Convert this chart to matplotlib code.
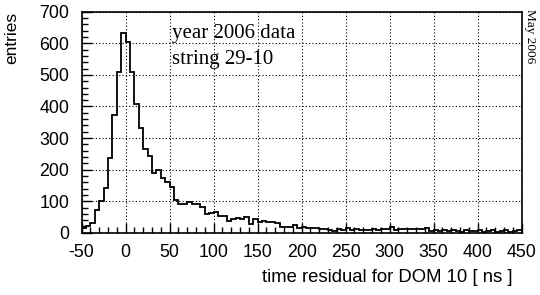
import numpy as np
import matplotlib
matplotlib.use('Agg')
import matplotlib.pyplot as plt
from matplotlib.ticker import MultipleLocator

plt.rcParams['axes.unicode_minus'] = False

# bin edges: 5 ns bins from -50 to 450
bin_lo = -50
bin_w = 5
counts = [14, 20, 32, 73, 100, 142, 237, 374, 508, 632,
          603, 510, 408, 333, 265, 243, 188, 200, 173, 160,
          146, 103, 90, 90, 98, 90, 90, 82, 58, 63,
          67, 53, 53, 37, 45, 48, 43, 51, 27, 42,
          33, 37, 34, 35, 30, 19, 19, 19, 24, 14,
          19, 14, 16, 14, 11, 11, 8, 5, 11, 10,
          14, 8, 11, 8, 8, 8, 11, 8, 12, 12,
          17, 8, 11, 11, 11, 12, 12, 13, 16, 5,
          8, 5, 8, 5, 8, 5, 3, 8, 5, 5,
          8, 3, 5, 8, 3, 5, 8, 3, 5, 8]
edges = bin_lo + bin_w * np.arange(len(counts) + 1)

fig = plt.figure(figsize=(5.4, 2.95), dpi=100)
ax = fig.add_axes([0.151, 0.211, 0.815, 0.749])

ax.stairs(counts, edges, color='black', linewidth=1.3)

ax.set_xlim(-50, 450)
ax.set_ylim(0, 700)
ax.xaxis.set_major_locator(MultipleLocator(50))
ax.xaxis.set_minor_locator(MultipleLocator(10))
ax.yaxis.set_major_locator(MultipleLocator(100))
ax.yaxis.set_minor_locator(MultipleLocator(20))
ax.grid(True, which='major', linestyle=(0, (1, 2)), color='black', linewidth=0.8)
ax.tick_params(which='both', direction='in', top=False, right=False,
               labelsize=12.8, width=1)
ax.tick_params(which='major', length=7)
ax.tick_params(which='minor', length=4)
ax.tick_params(axis='x', which='major', pad=8)
ax.tick_params(axis='y', which='major', pad=9)
for lab in ax.get_xticklabels() + ax.get_yticklabels():
    lab.set_family('Liberation Sans')
for sp in ax.spines.values():
    sp.set_linewidth(1.2)

ax.set_xlabel('time residual for DOM 10 [ ns ]', family='Liberation Sans',
              fontsize=13.3, ha='right')
ax.xaxis.set_label_coords(0.98, -0.165)
ax.set_ylabel('entries', family='Liberation Sans', fontsize=12.5, loc='top',
              labelpad=14)

ax.text(0.205, 0.9, 'year 2006 data', transform=ax.transAxes, family='Liberation Serif',
        fontsize=15, va='center')
ax.text(0.205, 0.785, 'string 29-10', transform=ax.transAxes, family='Liberation Serif',
        fontsize=15, va='center')
fig.text(0.982, 0.968, 'May 2006', rotation=-90, family='Liberation Serif',
         fontsize=9.5, va='top', ha='center')

fig.savefig('out.png', dpi=100)
